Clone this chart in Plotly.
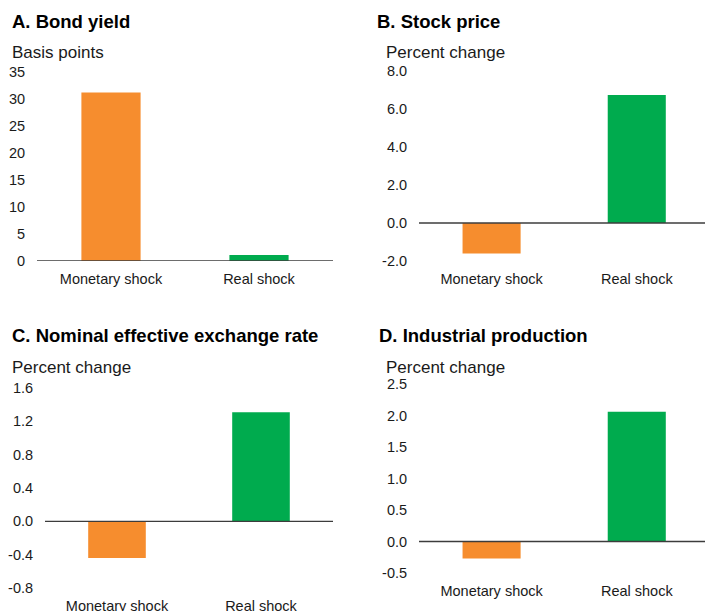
import plotly.graph_objects as go

categories = ["Monetary shock", "Real shock"]
bond_yield = [31.2, 1.1]
stock_price = [-1.6, 6.74]
neer = [-0.44, 1.31]
industrial = [-0.27, 2.06]

ticks_a = [0, 5, 10, 15, 20, 25, 30, 35]
ticks_b = [-2.0, 0.0, 2.0, 4.0, 6.0, 8.0]
ticks_c = [-0.8, -0.4, 0.0, 0.4, 0.8, 1.2, 1.6]
ticks_d = [-0.5, 0.0, 0.5, 1.0, 1.5, 2.0, 2.5]

titles = ["A. Bond yield", "B. Stock price", "C. Nominal effective exchange rate", "D. Industrial production"]
units = ["Basis points", "Percent change", "Percent change", "Percent change"]

ORANGE = "#F68D2E"
GREEN = "#00AB4E"
TXT = "#1a1a1a"
FONT = "Liberation Sans, Arial, sans-serif"

W, H = 705, 611

def px_x(x):
    return x / W

def px_y(y):
    return 1 - y / H

def label(v, fmt):
    s = format(v, fmt)
    if s.startswith("-") and float(s) == 0:
        s = s[1:]
    return s

fig = go.Figure()

panels = [
    dict(vals=bond_yield, ticks=ticks_a, fmt="d", xd=(37, 333), yd=(72, 261), xr=(-0.5, 1.5)),
    dict(vals=stock_price, ticks=ticks_b, fmt=".1f", xd=(419, 705), yd=(71, 261), xr=(-0.5, 1.47)),
    dict(vals=neer, ticks=ticks_c, fmt=".1f", xd=(45, 333), yd=(388, 588), xr=(-0.5, 1.5)),
    dict(vals=industrial, ticks=ticks_d, fmt=".1f", xd=(419, 705), yd=(384, 573), xr=(-0.5, 1.47)),
]

layout = {}
for i, p in enumerate(panels):
    n = "" if i == 0 else str(i + 1)
    xa, ya = "x" + n, "y" + n
    fig.add_trace(go.Bar(
        x=categories, y=p["vals"], xaxis=xa, yaxis=ya,
        marker=dict(color=[ORANGE, GREEN], line=dict(width=0)),
        width=0.4, showlegend=False, hoverinfo="x+y",
    ))
    layout["xaxis" + n] = dict(
        domain=[px_x(p["xd"][0]), min(1.0, px_x(p["xd"][1]))],
        anchor=ya, range=list(p["xr"]), type="category",
        showgrid=False, zeroline=False, showline=False, automargin=False,
        ticks="outside", ticklen=5, tickcolor="rgba(0,0,0,0)",
        tickfont=dict(family=FONT, size=14.5, color=TXT),
        fixedrange=True,
    )
    tv = p["ticks"]
    layout["yaxis" + n] = dict(
        domain=[px_y(p["yd"][1]), px_y(p["yd"][0])],
        anchor=xa, range=[min(tv), max(tv)],
        tickmode="array", tickvals=tv, ticktext=[label(v, p["fmt"]) for v in tv],
        showgrid=False, zeroline=False, showline=False, automargin=False,
        ticks="outside", ticklen=8, tickcolor="rgba(0,0,0,0)",
        tickfont=dict(family=FONT, size=14.5, color=TXT),
        fixedrange=True,
    )
    fig.add_shape(type="line", xref=xa + " domain", yref=ya,
                  x0=0, x1=1, y0=0, y1=0, line=dict(color="#3c3c3c", width=1.3))

title_pos = [(10, 22), (375, 22), (10, 335), (377, 335)]
unit_pos = [(10, 53), (384, 53), (10, 367), (384, 367)]
anns = []
for t, (x, y) in zip(titles, title_pos):
    anns.append(dict(text="<b>" + t + "</b>", x=px_x(x), y=px_y(y), xref="paper", yref="paper",
                     xanchor="left", yanchor="middle", showarrow=False,
                     font=dict(family=FONT, size=18.5, color="#000000")))
for t, (x, y) in zip(units, unit_pos):
    anns.append(dict(text=t, x=px_x(x), y=px_y(y), xref="paper", yref="paper",
                     xanchor="left", yanchor="middle", showarrow=False,
                     font=dict(family=FONT, size=17, color=TXT)))

fig.update_layout(
    **layout,
    annotations=anns,
    width=W, height=H,
    margin=dict(l=0, r=0, t=0, b=0, autoexpand=False),
    paper_bgcolor="white", plot_bgcolor="white",
    bargap=0.2,
)

fig.write_html("out.html", post_script="document.body.style.margin='0';",
               config={"displayModeBar": False})
